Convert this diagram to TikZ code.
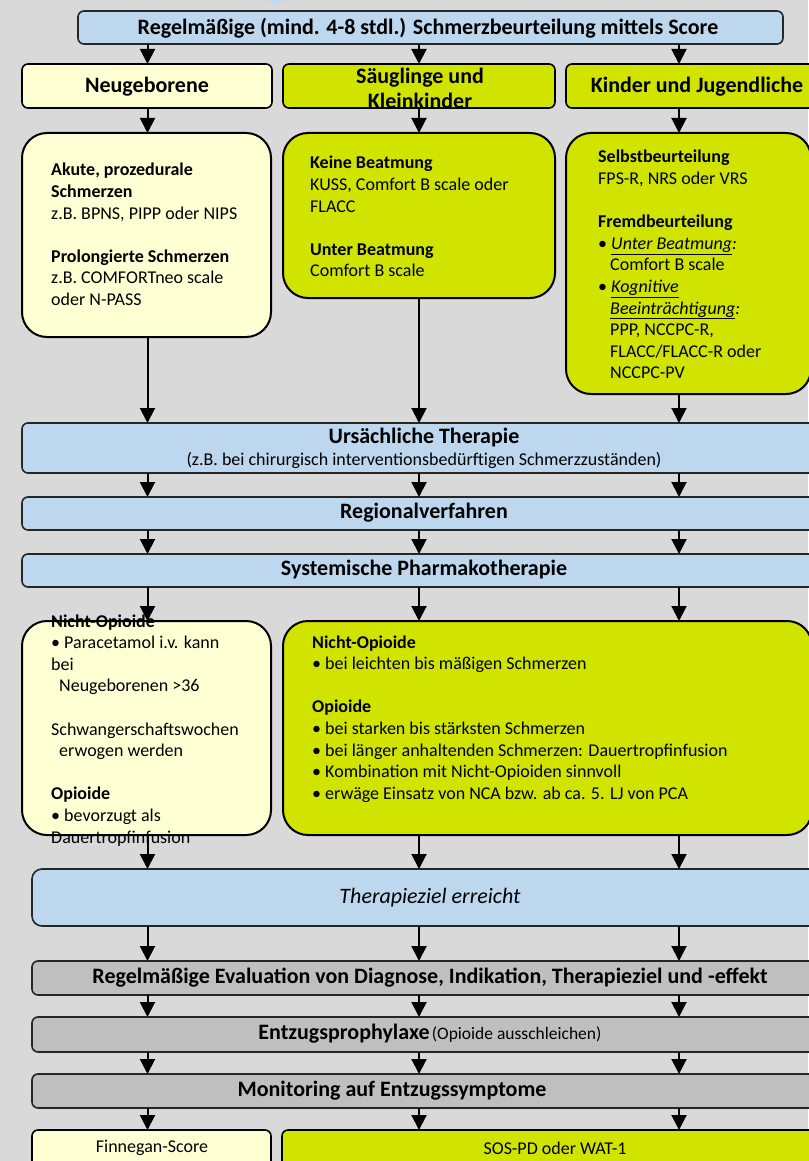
\documentclass[tikz,border=0pt]{standalone}
\usepackage{fontspec}
\setmainfont{Carlito}
\usetikzlibrary{arrows.meta}
\definecolor{bgc}{HTML}{D9D9D9}
\definecolor{lblue}{HTML}{BDD7EE}
\definecolor{lyel}{HTML}{FFFFD4}
\definecolor{lime}{HTML}{D1E400}
\definecolor{gbar}{HTML}{BFBFBF}
\definecolor{faint}{HTML}{C4D8EE}
\newcommand\ulx[1]{\underline{#1}}
\tikzset{
  boxbase/.style={anchor=north west, inner sep=0pt, outer sep=0pt},
  bigbox/.style={boxbase, draw=black, line width=2pt, rounded corners=25pt},
  headbox/.style={boxbase, draw=black, line width=1.6pt, rounded corners=6pt},
  barbox/.style={boxbase, draw=black!85, line width=1.6pt, rounded corners=6pt},
  arr/.style={line width=2pt, -{Triangle[width=15pt,length=15pt]}},
  bartxt/.style={font=\fontsize{22}{25}\selectfont\bfseries, inner sep=0pt},
  bodytxt/.style={anchor=base west, inner sep=0pt, font=\fontsize{18}{21.6}\selectfont},
  smalltxt/.style={inner sep=0pt, font=\fontsize{18}{21}\selectfont},
}
\begin{document}
\begin{tikzpicture}[x=1pt,y=-1pt]
\useasboundingbox (0,0) rectangle (808,1161);
\fill[bgc] (0,0) rectangle (808,1161);
\fill[faint] (267,0) -- (285,0) -- (276,7) -- cycle;

\coordinate (c1) at (147.5,0);
\coordinate (c2) at (419,0);
\coordinate (c3) at (679,0);

% boxes
\node[barbox, fill=lblue, minimum width=705pt, minimum height=33pt] (top) at (78,11) {};
\node[headbox, fill=lyel, minimum width=250pt, minimum height=44pt] (neu1) at (22,64) {};
\node[headbox, fill=lime, minimum width=272pt, minimum height=44pt] (sae1) at (283,64) {};
\node[headbox, fill=lime, minimum width=274pt, minimum height=44pt] (kin1) at (566,64) {};
\node[bigbox, fill=lyel, minimum width=249pt, minimum height=204pt] (neu2) at (22,133) {};
\node[bigbox, fill=lime, minimum width=272pt, minimum height=165pt] (sae2) at (283,133) {};
\node[bigbox, fill=lime, minimum width=245pt, minimum height=261pt] (kin2) at (566,133) {};
\node[barbox, fill=lblue, minimum width=804pt, minimum height=50pt] (urs) at (22,423) {};
\node[barbox, fill=lblue, minimum width=804pt, minimum height=33pt] (reg) at (22,497) {};
\node[barbox, fill=lblue, minimum width=804pt, minimum height=33pt] (sys) at (22,554) {};
\node[bigbox, fill=lyel, minimum width=249pt, minimum height=214pt] (neu3) at (22,621) {};
\node[bigbox, fill=lime, minimum width=529pt, minimum height=214pt] (sae3) at (283,621) {};
\node[barbox, fill=lblue, rounded corners=10pt, minimum width=796pt, minimum height=57pt] (ziel) at (32,869) {};
\node[barbox, fill=gbar, minimum width=796pt, minimum height=34pt] (eval) at (32,961) {};
\node[barbox, fill=gbar, minimum width=796pt, minimum height=35pt] (entz) at (32,1017) {};
\node[barbox, fill=gbar, minimum width=796pt, minimum height=34pt] (mon) at (32,1074) {};
\node[headbox, fill=lyel, minimum width=239pt, minimum height=55pt] (fin) at (32,1130) {};
\node[headbox, fill=lime, minimum width=558pt, minimum height=55pt] (sos) at (282,1130) {};

% arrows
\foreach \c in {c1,c2,c3} {
  \draw[arr] (urs.south -| \c) -- (reg.north -| \c);
  \draw[arr] (reg.south -| \c) -- (sys.north -| \c);
  \draw[arr] (ziel.south -| \c) -- (eval.north -| \c);
  \draw[arr] (eval.south -| \c) -- (entz.north -| \c);
  \draw[arr] (entz.south -| \c) -- (mon.north -| \c);
}
\draw[arr] (top.south -| c1) -- (neu1.north -| c1);
\draw[arr] (top.south -| c2) -- (sae1.north -| c2);
\draw[arr] (top.south -| c3) -- (kin1.north -| c3);
\draw[arr] (neu1.south -| c1) -- (neu2.north -| c1);
\draw[arr] (sae1.south -| c2) -- (sae2.north -| c2);
\draw[arr] (kin1.south -| c3) -- (kin2.north -| c3);
\draw[arr] (neu2.south -| c1) -- (urs.north -| c1);
\draw[arr] (sae2.south -| c2) -- (urs.north -| c2);
\draw[arr] (kin2.south -| c3) -- (urs.north -| c3);
\draw[arr] (sys.south -| c1) -- (neu3.north -| c1);
\draw[arr] (sys.south -| c2) -- (sae3.north -| c2);
\draw[arr] (sys.south -| c3) -- (sae3.north -| c3);
\draw[arr] (neu3.south -| c1) -- (ziel.north -| c1);
\draw[arr] (sae3.south -| c2) -- (ziel.north -| c2);
\draw[arr] (sae3.south -| c3) -- (ziel.north -| c3);
\draw[arr] (mon.south -| c1) -- (fin.north -| c1);
\draw[arr] (mon.south -| c2) -- (sos.north -| c2);
\draw[arr] (mon.south -| c3) -- (sos.north -| c3);

% texts
\node[bartxt] (ttop) at (428,28) {Regelmäßige (mind. 4-8 stdl.) Schmerzbeurteilung mittels Score};
\node[bartxt] (tneu1) at (147,87) {Neugeborene};
\node[bartxt, align=center, font=\fontsize{22}{25}\selectfont\bfseries] (tsae1) at (420,88) {Säuglinge und\\Kleinkinder};
\node[bartxt] (tkin1) at (697,87) {Kinder und Jugendliche};

\node[bodytxt] (tneu2) at (51,176) {\begin{tabular}[t]{@{}l@{}}
\textbf{Akute, prozedurale}\\
\textbf{Schmerzen}\\
z.B. BPNS, PIPP oder NIPS\\
\\
\textbf{Prolongierte Schmerzen}\\
z.B. COMFORTneo scale\\
oder N-PASS
\end{tabular}};
\node[bodytxt] (tsae2) at (310,169) {\begin{tabular}[t]{@{}l@{}}
\textbf{Keine Beatmung}\\
KUSS, Comfort B scale oder\\
FLACC\\
\\
\textbf{Unter Beatmung}\\
Comfort B scale
\end{tabular}};
\node[bodytxt] (tkin2) at (598,163) {\begin{tabular}[t]{@{}l@{}}
\textbf{Selbstbeurteilung}\\
FPS-R, NRS oder VRS\\
\\
\textbf{Fremdbeurteilung}\\
• \ulx{\textit{Unter Beatmung}}\textit{:}\\
\hspace*{12pt}Comfort B scale\\
• \ulx{\textit{Kognitive}}\\
\hspace*{12pt}\ulx{\textit{Beeinträchtigung}}\textit{:}\\
\hspace*{12pt}PPP, NCCPC-R,\\
\hspace*{12pt}FLACC/FLACC-R oder\\
\hspace*{12pt}NCCPC-PV
\end{tabular}};

\node[bartxt] (turs) at (424,438) {Ursächliche Therapie};
\node[smalltxt] (turs2) at (424,460) {(z.B. bei chirurgisch interventionsbedürftigen Schmerzzuständen)};
\node[bartxt] (treg) at (424,513) {Regionalverfahren};
\node[bartxt] (tsys) at (424,570) {Systemische Pharmakotherapie};

\node[bodytxt] (tneu3) at (51,627) {\begin{tabular}[t]{@{}l@{}}
\textbf{Nicht-Opioide}\\
• Paracetamol i.v. kann\\
bei\\
\hspace*{8pt}Neugeborenen >36\\
\\
Schwangerschaftswochen\\
\hspace*{8pt}erwogen werden\\
\\
\textbf{Opioide}\\
• bevorzugt als\\
Dauertropfinfusion
\end{tabular}};
\node[bodytxt] (tsae3) at (312,648) {\begin{tabular}[t]{@{}l@{}}
\textbf{Nicht-Opioide}\\
• bei leichten bis mäßigen Schmerzen\\
\\
\textbf{Opioide}\\
• bei starken bis stärksten Schmerzen\\
• bei länger anhaltenden Schmerzen: Dauertropfinfusion\\
• Kombination mit Nicht-Opioiden sinnvoll\\
• erwäge Einsatz von NCA bzw. ab ca. 5. LJ von PCA
\end{tabular}};

\node[bartxt, font=\fontsize{22}{25}\selectfont\itshape] (tziel) at (430,898) {Therapieziel erreicht};
\node[bartxt] (teval) at (430,978) {Regelmäßige Evaluation von Diagnose, Indikation, Therapieziel und -effekt};
\node[inner sep=0pt] (tentz) at (430,1034) {{\fontsize{22}{25}\selectfont\bfseries Entzugsprophylaxe} {\fontsize{17.5}{21}\selectfont (Opioide ausschleichen)}};
\node[bartxt] (tmon) at (392,1091) {Monitoring auf Entzugssymptome};
\node[smalltxt] (tfin) at (152,1148) {Finnegan-Score};
\node[smalltxt] (tsos) at (555,1148) {SOS-PD oder WAT-1};
\end{tikzpicture}
\end{document}
